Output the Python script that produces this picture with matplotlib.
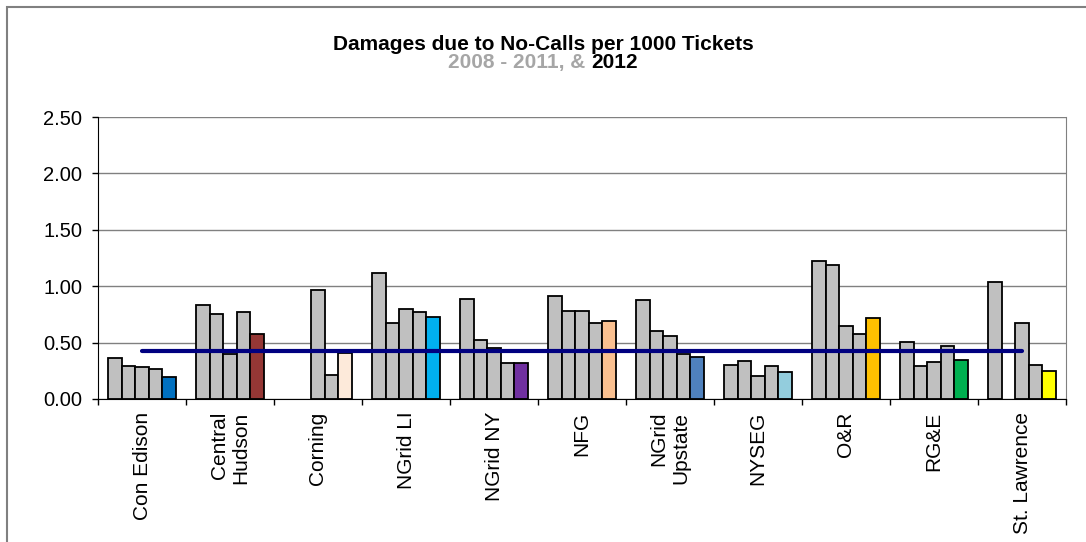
import numpy as np
import matplotlib
matplotlib.use("Agg")
import matplotlib.pyplot as plt
from matplotlib.patches import Rectangle

plt.rcParams['font.family'] = ['Liberation Sans', 'DejaVu Sans']

# companies on the x axis
companies = ['Con Edison', 'Central\nHudson', 'Corning', 'NGrid LI', 'NGrid NY', 'NFG',
             'NGrid\nUpstate', 'NYSEG', 'O&R', 'RG&E', 'St. Lawrence']

# damages per 1000 tickets, one list per year (nan = no bar)
nan = np.nan
y2008 = [0.36, 0.83, nan, 1.12, 0.89, 0.915, 0.875, 0.30, 1.22, 0.505, 1.04]
y2009 = [0.295, 0.75, nan, 0.67, 0.52, 0.78, 0.60, 0.34, 1.19, 0.29, nan]
y2010 = [0.28, 0.40, 0.97, 0.795, 0.45, 0.78, 0.555, 0.20, 0.645, 0.33, 0.675]
y2011 = [0.265, 0.77, 0.215, 0.77, 0.315, 0.675, 0.395, 0.295, 0.575, 0.47, 0.305]
y2012 = [0.195, 0.58, 0.41, 0.725, 0.32, 0.69, 0.375, 0.235, 0.715, 0.35, 0.245]

# statewide average line
average = [0.425, 0.425, 0.425, 0.425, 0.425, 0.425, 0.425, 0.425, 0.425, 0.425, 0.425]

colors_2012 = ['#0070C0', '#953735', '#FDEADA', '#00B0F0', '#7030A0', '#FAC090',
               '#4F81BD', '#93CDDD', '#FFC000', '#00B050', '#FFFF00']

fig = plt.figure(figsize=(10.86, 5.42), dpi=100)
ax = fig.add_axes([98 / 1086, 1 - 399 / 542, 968 / 1086, 282 / 542])

x = np.arange(len(companies)) + 0.5
w = 0.155
old_years = [y2008, y2009, y2010, y2011]
for k, vals in enumerate(old_years):
    ax.bar(x + (k - 2) * w, vals, width=w, color='#C0C0C0', edgecolor='black',
           linewidth=1.3, zorder=2)
ax.bar(x + 2 * w, y2012, width=w, color=colors_2012, edgecolor='black',
       linewidth=1.3, zorder=2)

ax.plot(x, average, color='#000080', linewidth=3, solid_capstyle='round', zorder=3)

ax.set_xlim(0, len(companies))
ax.set_ylim(0, 2.5)
ax.set_yticks(np.arange(0, 2.51, 0.5))
ax.set_yticklabels([f'{v:.2f}' for v in np.arange(0, 2.51, 0.5)], fontsize=14.5)
ax.yaxis.grid(True, color='#808080', linewidth=1, zorder=0)
ax.set_axisbelow(True)

ax.set_xticks(np.arange(len(companies) + 1))
ax.set_xticklabels([])
ax.set_xticks(x, companies, minor=True, rotation=90, fontsize=15,
              va='top', ha='center', multialignment='right')
ax.tick_params(axis='x', which='major', direction='out', length=4, width=1)
ax.tick_params(axis='x', which='minor', length=0, pad=9)
ax.tick_params(axis='y', direction='out', length=4.5, width=1, pad=7)

ax.spines['left'].set_color('black')
ax.spines['bottom'].set_color('black')
ax.spines['right'].set_color('#808080')
ax.spines['top'].set_visible(False)

# outer chart border (cut off by image at right/bottom)
fig.patches.append(Rectangle((7 / 1086, -0.05), 1.1, 1 - 7 / 542 + 0.05,
                             transform=fig.transFigure, fill=False,
                             edgecolor='#808080', linewidth=1.5))

fig.text(0.5, 1 - 50 / 542, 'Damages due to No-Calls per 1000 Tickets',
         ha='center', va='baseline', fontsize=15, fontweight='bold')

# subtitle with two colours
sub_y = 1 - 68 / 542
full = fig.text(0.5, sub_y, '2008 - 2011, & 2012', ha='center', va='baseline',
                fontsize=15, fontweight='bold', alpha=0)
fig.canvas.draw()
bb = full.get_window_extent().transformed(fig.transFigure.inverted())
fig.text(bb.x0, sub_y, '2008 - 2011, &', ha='left', va='baseline',
         fontsize=15, fontweight='bold', color='#A6A6A6')
fig.text(bb.x1, sub_y, '2012', ha='right', va='baseline',
         fontsize=15, fontweight='bold', color='black')

fig.savefig('out.png', dpi=100)
